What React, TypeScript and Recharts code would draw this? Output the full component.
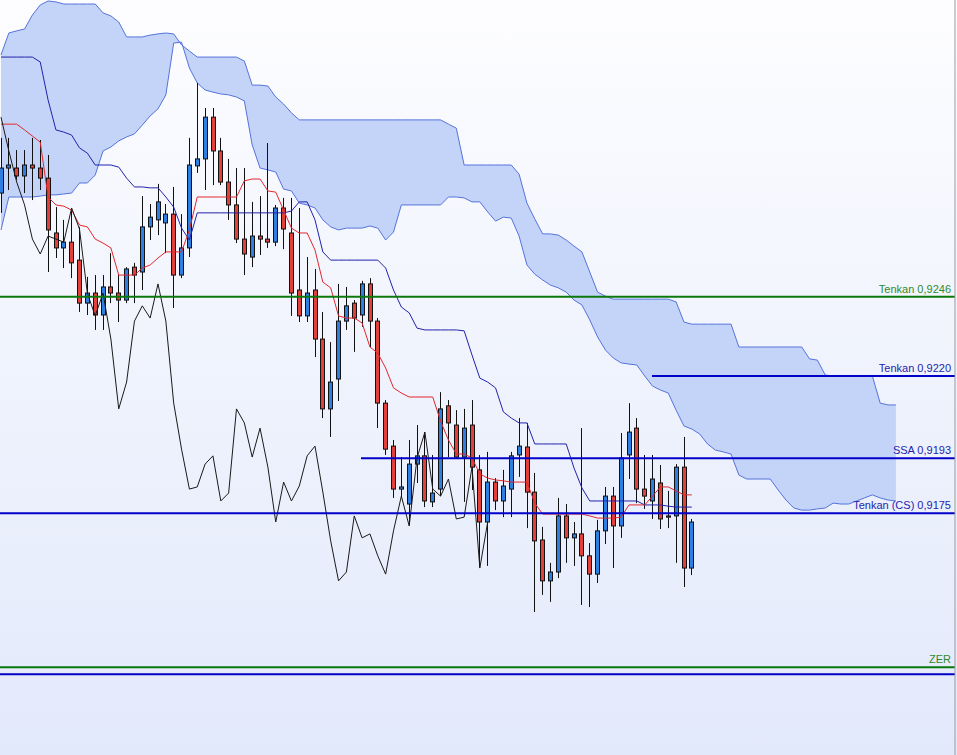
import { ComposedChart, XAxis, YAxis, Area, Line, Bar, ReferenceLine } from 'recharts';

// Bougies (indice 0 à 88)
const open = [
  0.92800, 0.92882, 0.92882, 0.92856, 0.92892, 0.92882, 0.92849, 0.92669, 0.92620, 0.92639,
  0.92580, 0.92439, 0.92472, 0.92400, 0.92492, 0.92472, 0.92449, 0.92557, 0.92541, 0.92689,
  0.92712, 0.92702, 0.92731, 0.92531, 0.92620, 0.92889, 0.92912, 0.93049, 0.92938, 0.92836,
  0.92761, 0.92649, 0.92590, 0.92659, 0.92649, 0.92639, 0.92751, 0.92669, 0.92482, 0.92397,
  0.92482, 0.92321, 0.92092, 0.92190, 0.92380, 0.92439, 0.92400, 0.92502, 0.92380, 0.92111,
  0.91970, 0.91829, 0.91780, 0.91911, 0.91938, 0.91787, 0.91829, 0.92102, 0.92039, 0.91934,
  0.92039, 0.91892, 0.91721, 0.91852, 0.91790, 0.91829, 0.91941, 0.91967, 0.91819, 0.91662,
  0.91528, 0.91557, 0.91741, 0.91669, 0.91682, 0.91610, 0.91550, 0.91692, 0.91806, 0.91708,
  0.91941, 0.92029, 0.91829, 0.91790, 0.91849, 0.91741, 0.91741, 0.91901, 0.91570,
];
const high = [
  0.92981, 0.92981, 0.92941, 0.92941, 0.92981, 0.92974, 0.92925, 0.92754, 0.92712, 0.92744,
  0.92689, 0.92525, 0.92531, 0.92531, 0.92603, 0.92531, 0.92557, 0.92571, 0.92790, 0.92764,
  0.92830, 0.92764, 0.92820, 0.92731, 0.92981, 0.93161, 0.93079, 0.93079, 0.92981, 0.92912,
  0.92882, 0.92882, 0.92771, 0.92790, 0.92964, 0.92761, 0.92784, 0.92784, 0.92751, 0.92590,
  0.92551, 0.92410, 0.92311, 0.92502, 0.92492, 0.92449, 0.92512, 0.92521, 0.92390, 0.92121,
  0.91990, 0.91934, 0.91990, 0.92039, 0.92016, 0.91941, 0.92147, 0.92121, 0.92088, 0.92092,
  0.92121, 0.91941, 0.91951, 0.91865, 0.91892, 0.91951, 0.92062, 0.92046, 0.91882, 0.91705,
  0.91587, 0.91800, 0.91780, 0.91721, 0.92029, 0.91652, 0.91728, 0.91836, 0.91836, 0.92013,
  0.92111, 0.92062, 0.91941, 0.91941, 0.91908, 0.91823, 0.91911, 0.92000, 0.91731,
];
const low = [
  0.92735, 0.92810, 0.92843, 0.92800, 0.92777, 0.92810, 0.92541, 0.92587, 0.92554, 0.92521,
  0.92410, 0.92400, 0.92351, 0.92351, 0.92439, 0.92377, 0.92439, 0.92439, 0.92482, 0.92646,
  0.92662, 0.92603, 0.92423, 0.92521, 0.92590, 0.92866, 0.92810, 0.92826, 0.92826, 0.92712,
  0.92636, 0.92531, 0.92557, 0.92597, 0.92620, 0.92626, 0.92616, 0.92397, 0.92377, 0.92377,
  0.92262, 0.92062, 0.92000, 0.92118, 0.92351, 0.92279, 0.92361, 0.92295, 0.92029, 0.91941,
  0.91800, 0.91800, 0.91711, 0.91849, 0.91770, 0.91770, 0.91806, 0.91934, 0.91931, 0.91787,
  0.91826, 0.91573, 0.91577, 0.91760, 0.91737, 0.91737, 0.91869, 0.91701, 0.91426, 0.91482,
  0.91459, 0.91537, 0.91587, 0.91577, 0.91449, 0.91442, 0.91521, 0.91649, 0.91570, 0.91669,
  0.91862, 0.91783, 0.91764, 0.91731, 0.91698, 0.91701, 0.91587, 0.91508, 0.91547,
];
const close = [
  0.92882, 0.92892, 0.92856, 0.92892, 0.92882, 0.92849, 0.92679, 0.92620, 0.92639, 0.92571,
  0.92439, 0.92472, 0.92400, 0.92492, 0.92472, 0.92449, 0.92551, 0.92531, 0.92689, 0.92721,
  0.92771, 0.92731, 0.92531, 0.92620, 0.92892, 0.92912, 0.93049, 0.92938, 0.92836, 0.92761,
  0.92649, 0.92600, 0.92659, 0.92649, 0.92639, 0.92751, 0.92682, 0.92472, 0.92397, 0.92472,
  0.92321, 0.92092, 0.92180, 0.92380, 0.92430, 0.92390, 0.92502, 0.92380, 0.92111, 0.91960,
  0.91829, 0.91836, 0.91911, 0.91938, 0.91790, 0.91816, 0.92092, 0.92046, 0.91934, 0.92029,
  0.91901, 0.91721, 0.91852, 0.91790, 0.91839, 0.91938, 0.91970, 0.91819, 0.91659, 0.91528,
  0.91557, 0.91741, 0.91669, 0.91682, 0.91610, 0.91550, 0.91692, 0.91806, 0.91708, 0.91931,
  0.92016, 0.91829, 0.91806, 0.91862, 0.91731, 0.91737, 0.91901, 0.91570, 0.91721,
];

// Tenkan (rouge) et Kijun (bleu foncé)
const tenkan = [
  0.93026, 0.93026, 0.93026, 0.93007, 0.92987, 0.92967, 0.92787, 0.92761, 0.92757, 0.92744,
  0.92695, 0.92689, 0.92649, 0.92636, 0.92620, 0.92531, 0.92531, 0.92531, 0.92554, 0.92564,
  0.92587, 0.92607, 0.92607, 0.92607, 0.92679, 0.92787, 0.92787, 0.92787, 0.92787, 0.92787,
  0.92787, 0.92840, 0.92846, 0.92846, 0.92807, 0.92803, 0.92744, 0.92685, 0.92669, 0.92669,
  0.92613, 0.92508, 0.92489, 0.92397, 0.92390, 0.92390, 0.92374, 0.92295, 0.92275, 0.92226,
  0.92161, 0.92144, 0.92131, 0.92131, 0.92131, 0.92131, 0.92052, 0.91990, 0.91944, 0.91944,
  0.91931, 0.91879, 0.91865, 0.91859, 0.91856, 0.91852, 0.91852, 0.91852, 0.91783, 0.91747,
  0.91747, 0.91747, 0.91747, 0.91747, 0.91747, 0.91741, 0.91734, 0.91734, 0.91734, 0.91737,
  0.91777, 0.91777, 0.91777, 0.91806, 0.91836, 0.91836, 0.91823, 0.91810, 0.91810,
];
const kijun = [
  0.93246, 0.93246, 0.93246, 0.93246, 0.93246, 0.93230, 0.93105, 0.93007, 0.93000, 0.92990,
  0.92948, 0.92931, 0.92892, 0.92892, 0.92892, 0.92885, 0.92849, 0.92820, 0.92820, 0.92817,
  0.92817, 0.92787, 0.92754, 0.92685, 0.92646, 0.92735, 0.92735, 0.92735, 0.92735, 0.92735,
  0.92735, 0.92735, 0.92735, 0.92735, 0.92735, 0.92735, 0.92735, 0.92741, 0.92771, 0.92771,
  0.92712, 0.92607, 0.92580, 0.92580, 0.92580, 0.92580, 0.92580, 0.92580, 0.92580, 0.92554,
  0.92482, 0.92426, 0.92407, 0.92357, 0.92351, 0.92351, 0.92351, 0.92351, 0.92351, 0.92348,
  0.92269, 0.92193, 0.92180, 0.92161, 0.92082, 0.92062, 0.92046, 0.92046, 0.91977, 0.91977,
  0.91977, 0.91977, 0.91977, 0.91898, 0.91833, 0.91790, 0.91790, 0.91790, 0.91790, 0.91790,
  0.91790, 0.91790, 0.91777, 0.91777, 0.91777, 0.91773, 0.91770, 0.91770, 0.91770,
];

// Nuage (indice 0 à 114, décalé de 26 périodes)
const cloudTop = [
  0.93253, 0.93325, 0.93332, 0.93338, 0.93384, 0.93417, 0.93430, 0.93427, 0.93420, 0.93420,
  0.93420, 0.93420, 0.93420, 0.93391, 0.93381, 0.93361, 0.93312, 0.93312, 0.93312, 0.93318,
  0.93322, 0.93325, 0.93322, 0.93286, 0.93266, 0.93246, 0.93246, 0.93246, 0.93246, 0.93246,
  0.93246, 0.93233, 0.93154, 0.93154, 0.93151, 0.93115, 0.93092, 0.93063, 0.93040, 0.93040,
  0.93040, 0.93040, 0.93040, 0.93040, 0.93040, 0.93040, 0.93040, 0.93040, 0.93040, 0.93040,
  0.93040, 0.93040, 0.93040, 0.93040, 0.93040, 0.93040, 0.93040, 0.93026, 0.93013, 0.92892,
  0.92892, 0.92892, 0.92892, 0.92892, 0.92892, 0.92892, 0.92862, 0.92767, 0.92715, 0.92666,
  0.92666, 0.92662, 0.92646, 0.92626, 0.92607, 0.92541, 0.92475, 0.92462, 0.92452, 0.92452,
  0.92452, 0.92452, 0.92452, 0.92452, 0.92452, 0.92452, 0.92443, 0.92377, 0.92370, 0.92370,
  0.92370, 0.92370, 0.92370, 0.92370, 0.92295, 0.92295, 0.92295, 0.92295, 0.92295, 0.92295,
  0.92295, 0.92295, 0.92295, 0.92256, 0.92252, 0.92203, 0.92200, 0.92200, 0.92200, 0.92200,
  0.92200, 0.92200, 0.92111, 0.92105, 0.92105,
];
const cloudBottom = [
  0.92679, 0.92787, 0.92787, 0.92787, 0.92787, 0.92790, 0.92794, 0.92794, 0.92797, 0.92800,
  0.92833, 0.92833, 0.92859, 0.92938, 0.92951, 0.92971, 0.92984, 0.92994, 0.93023, 0.93053,
  0.93076, 0.93122, 0.93292, 0.93295, 0.93210, 0.93161, 0.93138, 0.93131, 0.93125, 0.93122,
  0.93115, 0.93102, 0.92958, 0.92882, 0.92876, 0.92869, 0.92813, 0.92807, 0.92767, 0.92761,
  0.92751, 0.92712, 0.92689, 0.92679, 0.92685, 0.92685, 0.92685, 0.92692, 0.92685, 0.92646,
  0.92672, 0.92761, 0.92761, 0.92761, 0.92761, 0.92761, 0.92761, 0.92787, 0.92787, 0.92784,
  0.92771, 0.92771, 0.92738, 0.92708, 0.92721, 0.92718, 0.92659, 0.92564, 0.92534, 0.92515,
  0.92498, 0.92489, 0.92475, 0.92449, 0.92433, 0.92384, 0.92328, 0.92285, 0.92259, 0.92243,
  0.92239, 0.92236, 0.92200, 0.92167, 0.92154, 0.92144, 0.92088, 0.92036, 0.92026, 0.92010,
  0.91977, 0.91957, 0.91951, 0.91944, 0.91875, 0.91862, 0.91862, 0.91862, 0.91862, 0.91826,
  0.91793, 0.91767, 0.91760, 0.91760, 0.91764, 0.91767, 0.91783, 0.91780, 0.91780, 0.91790,
  0.91800, 0.91810, 0.91800, 0.91793, 0.91790,
];

const CHIKOU_SHIFT = 26;
const priceTicks = [0.910, 0.912, 0.914, 0.916, 0.918, 0.920, 0.922, 0.924, 0.926, 0.928, 0.930, 0.932, 0.934];

const rows = cloudTop.map((top, i) => ({
  i,
  cloud: [cloudBottom[i], top],
  range: i < close.length ? [low[i], high[i]] : null,
  open: open[i] ?? null,
  high: high[i] ?? null,
  low: low[i] ?? null,
  close: close[i] ?? null,
  tenkan: tenkan[i] ?? null,
  kijun: kijun[i] ?? null,
  chikou: close[i + CHIKOU_SHIFT] ?? null,
}));

const FONT = '"Liberation Sans", Arial, sans-serif';

function Candle(props: any) {
  const { x, y, width, height, payload } = props;
  if (!payload || payload.open == null) return <g />;
  const top = Math.min(y, y + height);
  const span = Math.abs(height);
  const { open: o, high: h, low: l, close: c } = payload;
  const toY = (v: number) => top + ((h - v) / (h - l || 1)) * span;
  const cx = Math.round(x + width / 2) + 0.5;
  const yo = toY(o);
  const yc = toY(c);
  const bodyTop = Math.min(yo, yc);
  const bodyH = Math.max(Math.abs(yo - yc), 1);
  return (
    <g>
      <line x1={cx} x2={cx} y1={top} y2={top + span} stroke="#111" strokeWidth={1} />
      <rect x={cx - 2} y={bodyTop} width={4} height={bodyH} fill={c >= o ? '#2d7fe2' : '#e2413b'} stroke="#111" strokeWidth={1} />
    </g>
  );
}

const label = (value: string, fill: string) => ({
  value,
  position: 'insideBottomRight' as const,
  offset: 4,
  fill,
  fontSize: 11,
  fontFamily: FONT,
});

export default function App() {
  return (
    <div style={{ width: 957, height: 755, background: 'linear-gradient(#fdfdff, #e2e9fb)' }}>
      <style>{'body{margin:0}'}</style>
      <ComposedChart width={957} height={755} data={rows} margin={{ top: 0, right: 0, bottom: 0, left: 0 }}>
        <XAxis type="number" dataKey="i" domain={[-0.127, 121.53]} allowDataOverflow hide />
        <YAxis
          orientation="right"
          type="number"
          width={2}
          domain={[0.909568, 0.934332]}
          allowDataOverflow
          ticks={priceTicks}
          tick={false}
          tickSize={2}
          tickLine={{ stroke: '#9a9a9a' }}
          axisLine={{ stroke: '#9a9a9a' }}
        />
        <Area type="linear" dataKey="cloud" stroke="#5573dc" strokeWidth={1} fill="#c4d4f8" fillOpacity={1} dot={false} activeDot={false} isAnimationActive={false} />
        <Line type="linear" dataKey="kijun" stroke="#2222aa" strokeWidth={1} dot={false} activeDot={false} isAnimationActive={false} />
        <Line type="linear" dataKey="tenkan" stroke="#e3272b" strokeWidth={1} dot={false} activeDot={false} isAnimationActive={false} />
        <Bar dataKey="range" barSize={5} shape={Candle} activeBar={false} isAnimationActive={false} />
        <Line type="linear" dataKey="chikou" stroke="#1a1a1a" strokeWidth={1} dot={false} activeDot={false} isAnimationActive={false} />
        <ReferenceLine y={0.9246} stroke="#0a780a" strokeWidth={2} label={label('Tenkan 0,9246', '#2f8a2f')} />
        <ReferenceLine
          segment={[{ x: 82.93, y: 0.922 }, { x: 121.53, y: 0.922 }]}
          stroke="#0000c8"
          strokeWidth={2}
          label={label('Tenkan 0,9220', '#2424b0')}
        />
        <ReferenceLine
          segment={[{ x: 45.86, y: 0.9193 }, { x: 121.53, y: 0.9193 }]}
          stroke="#0000c8"
          strokeWidth={2}
          label={label('SSA 0,9193', '#2424b0')}
        />
        <ReferenceLine y={0.9175} stroke="#0000c8" strokeWidth={2} label={label('Tenkan (CS) 0,9175', '#2424b0')} />
        <ReferenceLine y={0.91245} stroke="#0a780a" strokeWidth={2} label={label('ZER', '#2f8a2f')} />
        <ReferenceLine y={0.91222} stroke="#0000c8" strokeWidth={2} />
      </ComposedChart>
    </div>
  );
}
